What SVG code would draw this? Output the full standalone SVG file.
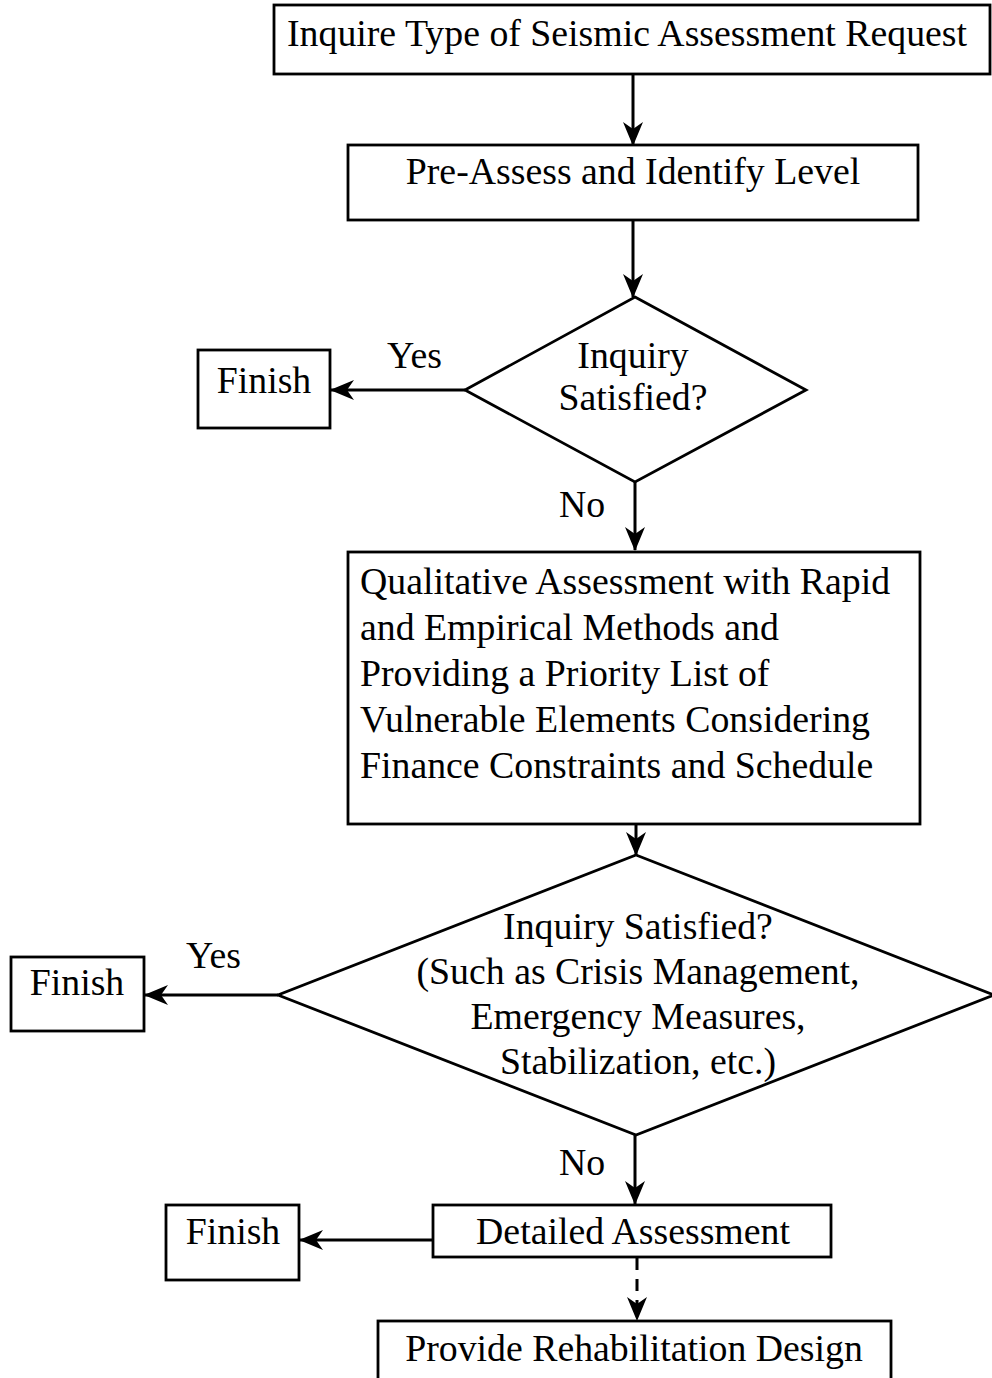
<svg xmlns="http://www.w3.org/2000/svg" width="992" height="1378" viewBox="0 0 992 1378">
<defs>
<style>
.box{fill:#fff;stroke:#000;stroke-width:2.8}
.t{font-family:"Liberation Serif","Times New Roman",serif;font-size:37.8px;fill:#000}
.c{text-anchor:middle}
.ln{stroke:#000;stroke-width:3;fill:none}
.dash{stroke-dasharray:12 9}
</style>
<marker id="ah" viewBox="0 0 24 22" refX="23" refY="11" markerWidth="24" markerHeight="22" markerUnits="userSpaceOnUse" orient="auto">
<path d="M0,1 L24,11 L0,21 L7,11 Z" fill="#000"/>
</marker>
</defs>
<rect width="992" height="1378" fill="#fff"/>
<g id="connectors">
<line class="ln" x1="633" y1="74" x2="633" y2="145" marker-end="url(#ah)"/>
<line class="ln" x1="633" y1="220" x2="633" y2="297" marker-end="url(#ah)"/>
<line class="ln" x1="465" y1="390" x2="331" y2="390" marker-end="url(#ah)"/>
<line class="ln" x1="635" y1="482" x2="635" y2="550" marker-end="url(#ah)"/>
<line class="ln" x1="636" y1="824" x2="636" y2="855" marker-end="url(#ah)"/>
<line class="ln" x1="278" y1="995" x2="145" y2="995" marker-end="url(#ah)"/>
<line class="ln" x1="635" y1="1135" x2="635" y2="1204" marker-end="url(#ah)"/>
<line class="ln" x1="433" y1="1240" x2="300" y2="1240" marker-end="url(#ah)"/>
<line class="ln dash" x1="637" y1="1258" x2="637" y2="1320" marker-end="url(#ah)"/>
<text class="t" x="387" y="368">Yes</text>
<text class="t" x="559" y="517">No</text>
<text class="t" x="186" y="968">Yes</text>
<text class="t" x="559" y="1175">No</text>
</g>
<g id="n1">
<rect class="box" x="274" y="5" width="716" height="69"/>
<text class="t" x="287" y="46">Inquire Type of Seismic Assessment Request</text>
</g>
<g id="n2">
<rect class="box" x="348" y="145" width="570" height="75"/>
<text class="t c" x="633" y="184">Pre-Assess and Identify Level</text>
</g>
<g id="d1">
<polygon class="box" points="635,297 806,390 635,482 465,390"/>
<text class="t c" x="633" y="368">Inquiry</text>
<text class="t c" x="633" y="410">Satisfied?</text>
</g>
<g id="f1">
<rect class="box" x="198" y="350" width="132" height="78"/>
<text class="t c" x="264" y="393">Finish</text>
</g>
<g id="n3">
<rect class="box" x="348" y="552" width="572" height="272"/>
<text class="t" x="360" y="594">Qualitative Assessment with Rapid</text>
<text class="t" x="360" y="640">and Empirical Methods and</text>
<text class="t" x="360" y="686">Providing a Priority List of</text>
<text class="t" x="360" y="732">Vulnerable Elements Considering</text>
<text class="t" x="360" y="778">Finance Constraints and Schedule</text>
</g>
<g id="d2">
<polygon class="box" points="636,855 994,995 636,1135 278,995"/>
<text class="t c" x="638" y="939">Inquiry Satisfied?</text>
<text class="t c" x="638" y="984">(Such as Crisis Management,</text>
<text class="t c" x="638" y="1029">Emergency Measures,</text>
<text class="t c" x="638" y="1074">Stabilization, etc.)</text>
</g>
<g id="f2">
<rect class="box" x="11" y="957" width="133" height="74"/>
<text class="t c" x="77" y="995">Finish</text>
</g>
<g id="n4">
<rect class="box" x="433" y="1205" width="398" height="52"/>
<text class="t c" x="633" y="1244">Detailed Assessment</text>
</g>
<g id="f3">
<rect class="box" x="166" y="1205" width="133" height="75"/>
<text class="t c" x="233" y="1244">Finish</text>
</g>
<g id="n5">
<rect class="box" x="378" y="1321" width="513" height="70"/>
<text class="t c" x="634" y="1361">Provide Rehabilitation Design</text>
</g>
</svg>
